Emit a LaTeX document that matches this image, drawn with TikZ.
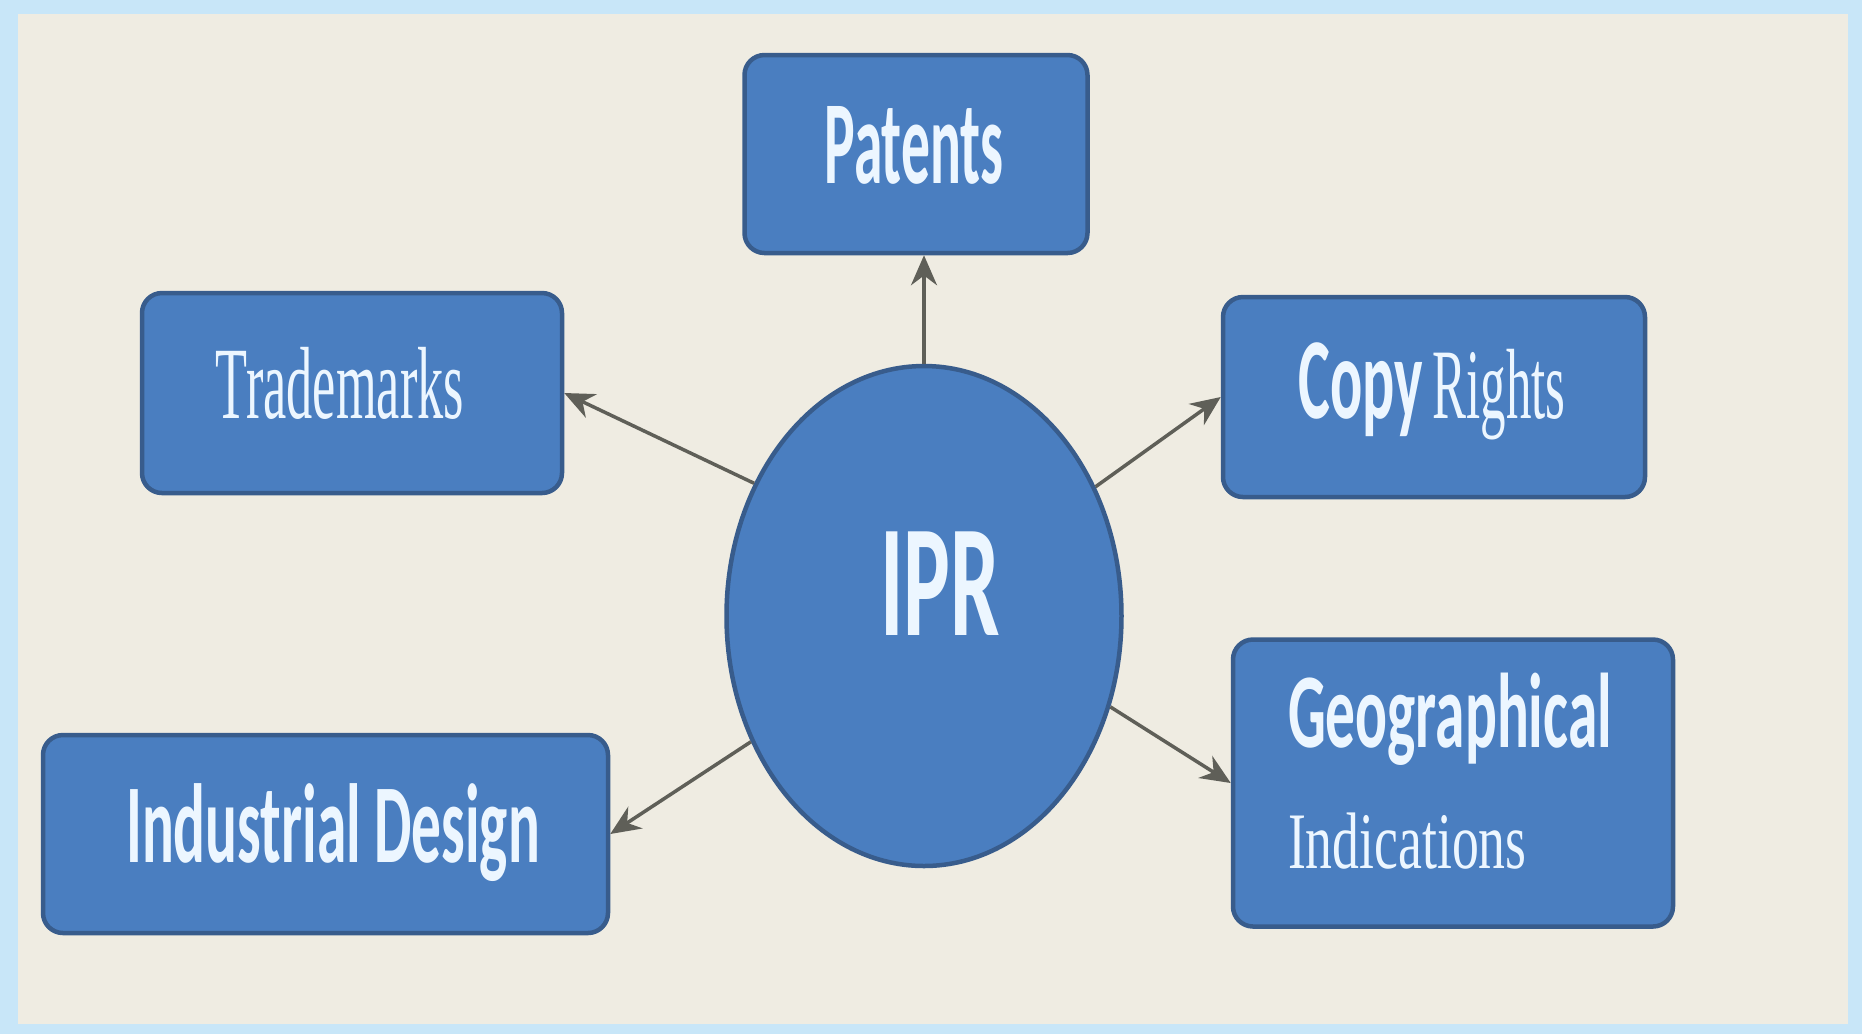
\documentclass[tikz,border=0pt]{standalone}
\usepackage{fontspec}
\usepackage{graphicx}
\setmainfont{Liberation Serif}
\newfontfamily\calfont{Carlito}
\usetikzlibrary{shapes.geometric,arrows.meta}
\definecolor{bgcream}{RGB}{239,236,226}
\definecolor{frameblue}{RGB}{200,230,248}
\definecolor{boxfill}{RGB}{74,126,192}
\definecolor{boxline}{RGB}{56,92,140}
\definecolor{txtc}{RGB}{236,246,255}
\definecolor{arrowc}{RGB}{95,95,88}
% horizontally squeezed text: stretch, size, text
\newcommand\sqz[3]{\scalebox{#1}[1]{\fontsize{#2}{#2}\selectfont #3}}
% place content: 2*dx shift, raise, content
\newcommand\putat[3]{\raisebox{#2}[0pt][0pt]{\makebox[0pt]{\hspace*{#1}#3}}}
\begin{document}
\begin{tikzpicture}[x=0.1mm,y=-0.1mm,
  box/.style={draw=boxline, fill=boxfill, line width=0.45mm, rounded corners=2mm,
    inner sep=0pt, text=txtc},
  hub/.style={ellipse, draw=boxline, fill=boxfill, line width=0.45mm, inner sep=0pt,
    text=txtc, minimum width=39.5mm, minimum height=50mm},
  link/.style={draw=arrowc, line width=0.35mm, -{Stealth[length=3mm,width=2.6mm]}}]
\fill[frameblue] (0,0) rectangle (1862,1034);
\fill[bgcream] (18,14) rectangle (1848,1024);

\node[hub] (ipr) at (924,616)
  {\putat{3.2mm}{-1.9mm}{\calfont\bfseries\sqz{0.55}{45.5pt}{IPR}}};

\node[box, minimum width=34.3mm, minimum height=19.8mm] (pat) at (916,154)
  {\putat{-0.4mm}{-2.9mm}{\calfont\bfseries\sqz{0.485}{33.8pt}{Patents}}};

\node[box, minimum width=42mm, minimum height=20mm] (tm) at (352,393)
  {\putat{-2.4mm}{-2.5mm}{\sqz{0.51}{29.2pt}{Trademarks}}};

\node[box, minimum width=42.2mm, minimum height=20mm] (cr) at (1434,397)
  {\putat{-0.4mm}{-2.1mm}{{\calfont\bfseries\sqz{0.52}{32.9pt}{Copy}}\hspace{1mm}\sqz{0.51}{28.4pt}{Rights}}};

\node[box, minimum width=44mm, minimum height=28.7mm] (gi) at (1453,783)
  {\putat{-0.6mm}{3.6mm}{\vtop{\baselineskip=12.1mm\lineskiplimit=-50pt
     \hbox{\calfont\bfseries\sqz{0.56}{30.2pt}{Geographical}}
     \hbox{\sqz{0.67}{22.8pt}{Indications}}}}};

\node[box, minimum width=56.5mm, minimum height=19.8mm] (id) at (325.5,834)
  {\putat{1.5mm}{-2.8mm}{\calfont\bfseries\sqz{0.528}{32pt}{Industrial Design}}};

\draw[link] (ipr.north) -- (ipr.north |- pat.south);
\draw[link] (ipr.142.6) -- (tm.east);
\draw[link] (ipr.37.6) -- (cr.west);
\draw[link] (ipr.-26.8) -- (gi.west);
\draw[link] (ipr.216) -- (id.east);
\end{tikzpicture}
\end{document}
